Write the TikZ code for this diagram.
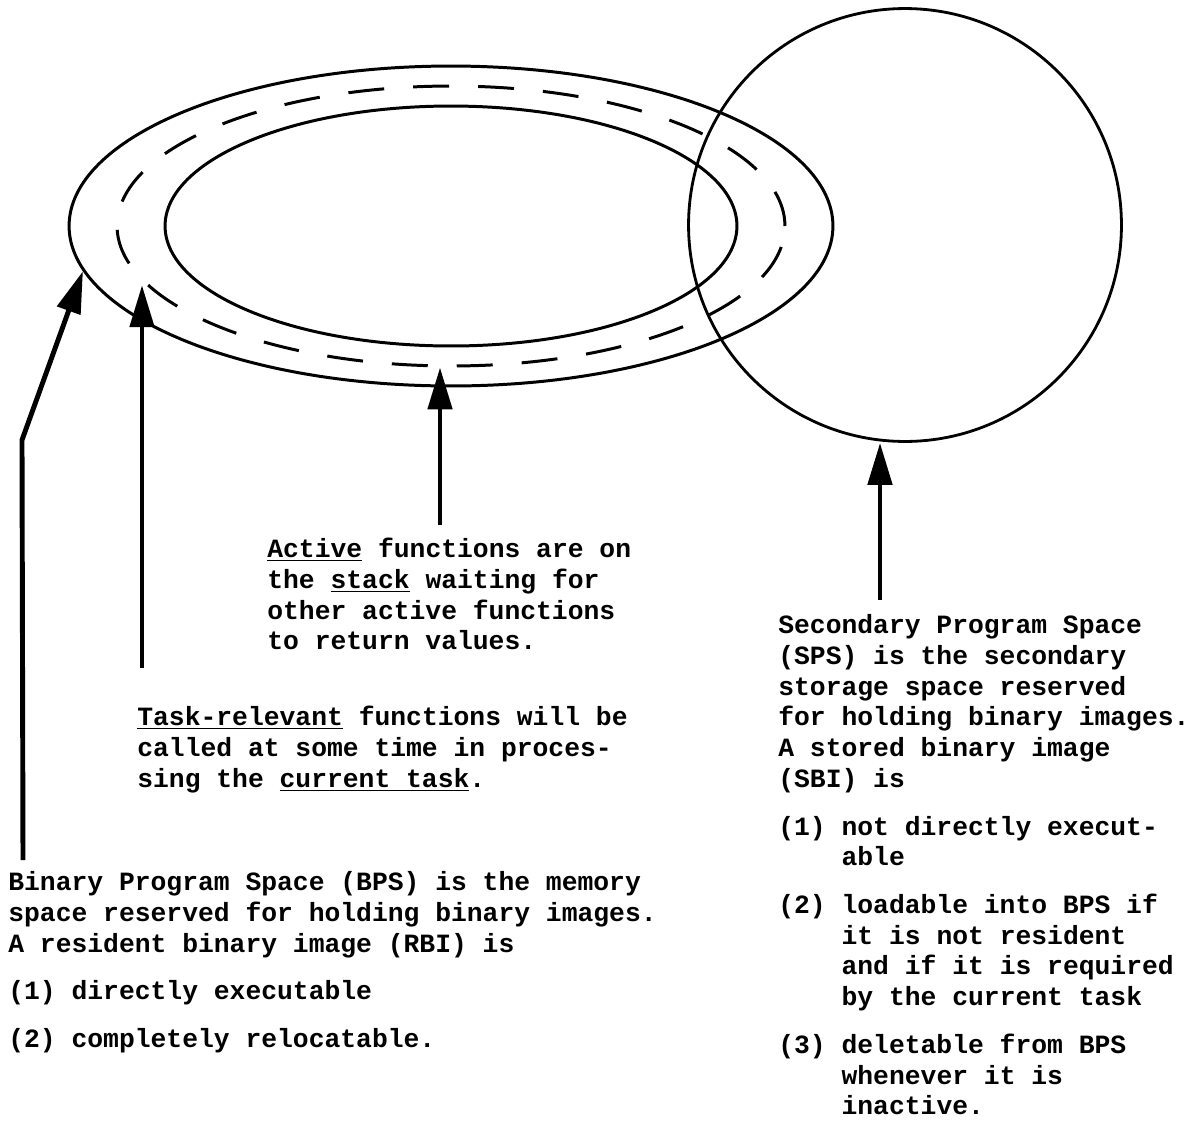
\documentclass[tikz,border=0pt]{standalone}
\usepackage{fontspec}
\setmonofont{Liberation Mono}
\usetikzlibrary{shapes.geometric,arrows.meta}
\newcommand{\itemind}{\hphantom{(0) }}

\begin{document}
\begin{tikzpicture}[x=0.02cm, y=-0.02cm,
    ring/.style={ellipse, draw=black, line width=1.7pt, inner sep=0pt},
    dashring/.style={ring, dash pattern=on 0.72cm off 0.58cm},
    store/.style={circle, draw=black, line width=1.6pt, inner sep=0pt, minimum size=8.66cm},
    pointer/.style={line width=2.8pt, line join=round, -{Triangle[length=0.84cm, width=0.48cm]}},
    note/.style={anchor=north west, inner sep=0pt, align=left, font=\fontsize{15}{17.47}\selectfont\ttfamily\bfseries}
]
\useasboundingbox (0,0) rectangle (1199,1133);

% program spaces
\node (bps) [ring, minimum width=15.28cm, minimum height=6.4cm] at (451,226) {};
\node (relevant) [dashring, minimum width=13.36cm, minimum height=5.6cm] at (451,226) {};
\node (active) [ring, minimum width=11.44cm, minimum height=4.8cm] at (451,226) {};
\node (sps) [store] at (905,225) {};

% notes
\node (activenote) [note] at (267,536) {\strut\underline{Active} functions are on\\
    the \underline{stack} waiting for\\
    other active functions\\
    to return values.};
\node (tasknote) [note] at (137,704) {\strut\underline{Task-relevant} functions will be\\
    called at some time in proces-\\
    sing the \underline{current task}.};
\node (bpsnote) [note] at (8,869) {\strut Binary Program Space (BPS) is the memory\\
    space reserved for holding binary images.\\
    A resident binary image (RBI) is\\[9.7pt](1) directly executable\\[9.7pt](2) completely relocatable.};
\node (spsnote) [note] at (778,612) {\strut Secondary Program Space\\
    (SPS) is the secondary\\
    storage space reserved\\
    for holding binary images.\\
    A stored binary image\\
    (SBI) is\\[9.7pt](1) not directly execut-\\
    \itemind able\\[9.7pt](2) loadable into BPS if\\
    \itemind it is not resident\\
    \itemind and if it is required\\
    \itemind by the current task\\[9.7pt](3) deletable from BPS\\
    \itemind whenever it is\\
    \itemind inactive.};

% arrow tails
\coordinate (t1) at (23,860);
\coordinate (k1) at (22,440);
\coordinate (t2) at (142,668);
\coordinate (t3) at (440,525);
\coordinate (t4) at (880,600);

\draw [pointer] (t1) -- (k1) -- (bps.187);
\draw [pointer] (t2) -- (t2 |- relevant.191);
\draw [pointer] (t3) -- (t3 |- relevant.south);
\draw [pointer] (t4) -- (t4 |- sps.south);

\end{tikzpicture}
\end{document}
